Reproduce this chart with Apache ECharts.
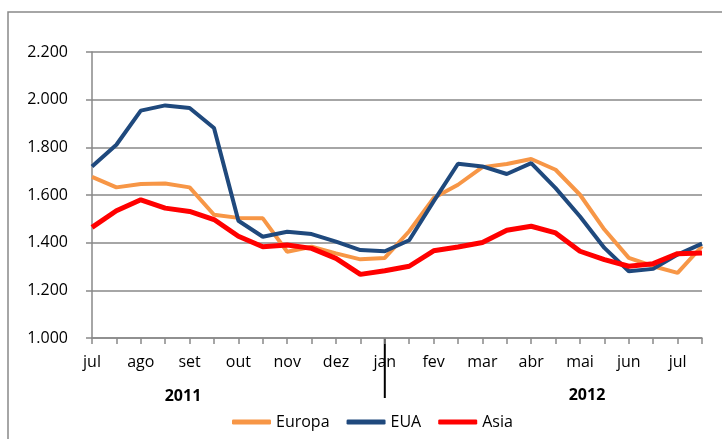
<!DOCTYPE html>
<html>
<head>
<meta charset="utf-8">
<script src="https://cdn.jsdelivr.net/npm/echarts@6/dist/echarts.min.js"></script>
<style>
  html, body { margin: 0; padding: 0; background: #fff; }
  #main { width: 722px; height: 439px; }
</style>
</head>
<body>
<div id="main"></div>
<script>
// dados quinzenais, jul/2011 a jul/2012
var meses = ['jul', '', 'ago', '', 'set', '', 'out', '', 'nov', '', 'dez', '', 'jan',
             '', 'fev', '', 'mar', '', 'abr', '', 'mai', '', 'jun', '', 'jul', ''];
var europa = [1676, 1632, 1646, 1648, 1632, 1517, 1504, 1502, 1362, 1383, 1355, 1330, 1336,
              1448, 1587, 1643, 1717, 1730, 1751, 1706, 1601, 1455, 1336, 1301, 1273, 1385];
var eua = [1720, 1811, 1954, 1976, 1965, 1881, 1492, 1425, 1446, 1436, 1404, 1369, 1364,
           1410, 1573, 1731, 1720, 1688, 1734, 1629, 1510, 1378, 1280, 1290, 1350, 1396];
var asia = [1464, 1534, 1580, 1545, 1531, 1497, 1427, 1383, 1390, 1376, 1334, 1267, 1282,
            1301, 1366, 1382, 1401, 1452, 1469, 1441, 1364, 1329, 1301, 1312, 1354, 1357];
var anos = ['2011', '2012'];

var fonte = '"Open Sans", sans-serif';
var cinza = '#898989';

var myChart = echarts.init(document.getElementById('main'));
myChart.setOption({
    animation: false,
    textStyle: { fontFamily: fonte },
    grid: { left: 92, right: 20, top: 52, bottom: 101, containLabel: false },
    legend: {
        left: 227,
        top: 409,
        icon: 'roundRect',
        itemWidth: 39,
        itemHeight: 5,
        itemGap: 17,
        textStyle: { fontFamily: fonte, fontSize: 16, color: '#000' },
        data: ['Europa', 'EUA', 'Asia']
    },
    xAxis: {
        type: 'category',
        data: meses,
        boundaryGap: false,
        axisLine: { lineStyle: { color: cinza, width: 1.5 } },
        axisTick: { interval: 0, length: 6, lineStyle: { color: cinza, width: 1.5 } },
        axisLabel: { interval: 0, margin: 16, color: '#000', fontSize: 16, fontFamily: fonte },
        splitLine: { show: false }
    },
    yAxis: {
        type: 'value',
        min: 1000,
        max: 2200,
        interval: 200,
        axisLine: { show: true, lineStyle: { color: cinza, width: 1.5 } },
        axisTick: { show: true, length: 6, lineStyle: { color: cinza, width: 1.5 } },
        axisLabel: {
            margin: 24, color: '#000', fontSize: 16, fontFamily: fonte,
            formatter: function (v) { return (v / 1000).toFixed(3); }
        },
        splitLine: { lineStyle: { color: cinza, width: 1.5 } }
    },
    series: [
        { name: 'Europa', type: 'line', data: europa, symbol: 'none', color: '#F79646',
          lineStyle: { width: 4, color: '#F79646' } },
        { name: 'EUA', type: 'line', data: eua, symbol: 'none', color: '#1F497D',
          lineStyle: { width: 4, color: '#1F497D' } },
        { name: 'Asia', type: 'line', data: asia, symbol: 'none', color: '#FF0000',
          lineStyle: { width: 5, color: '#FF0000' } }
    ]
});

// separador de ano e rótulos de ano
var xJan = myChart.convertToPixel({ xAxisIndex: 0 }, 12);
var yBase = myChart.convertToPixel({ yAxisIndex: 0 }, 1000);
myChart.setOption({
    graphic: [
        { type: 'rect', shape: { x: 8, y: 12, width: 760, height: 480 },
          style: { fill: 'none', stroke: cinza, lineWidth: 1.5 }, silent: true },
        { type: 'line', shape: { x1: xJan, y1: yBase, x2: xJan, y2: yBase + 60 },
          style: { stroke: '#000', lineWidth: 2 } },
        { type: 'text', x: 183, y: 396,
          style: { text: anos[0], font: 'bold 16px ' + fonte, fill: '#000', align: 'center', verticalAlign: 'middle' } },
        { type: 'text', x: 587, y: 395,
          style: { text: anos[1], font: 'bold 16px ' + fonte, fill: '#000', align: 'center', verticalAlign: 'middle' } }
    ]
});
</script>
</body>
</html>
